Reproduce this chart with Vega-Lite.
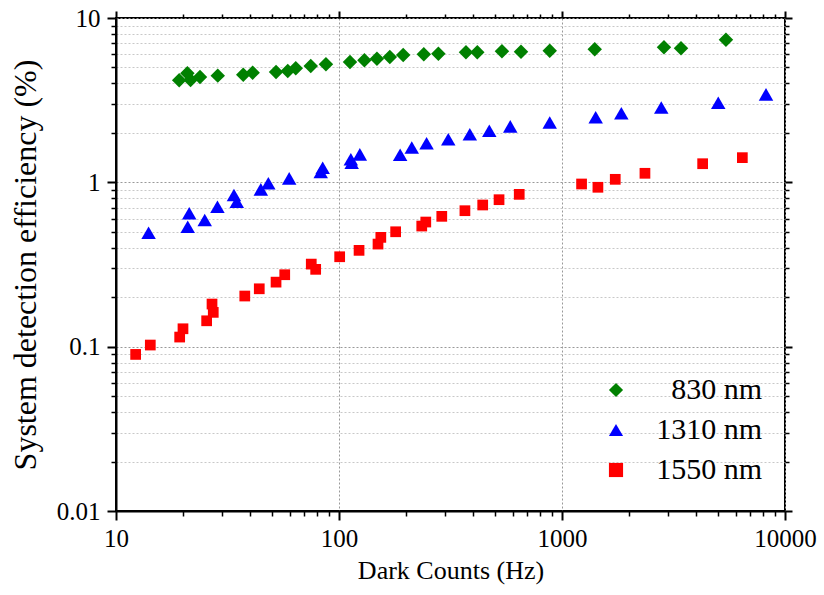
{
  "$schema": "https://vega.github.io/schema/vega-lite/v6.json",
  "width": 669,
  "height": 493,
  "autosize": {"type": "none"},
  "padding": {"left": 116, "top": 18, "right": 39, "bottom": 84},
  "background": "white",
  "config": {
    "view": {"stroke": "black", "strokeWidth": 2},
    "font": "Times New Roman",
    "axis": {"labelFont": "Times New Roman", "titleFont": "Times New Roman", "labelFontSize": 25, "titleFontSize": 26, "labelColor": "black", "titleColor": "black", "titleFontWeight": "normal", "domainColor": "black", "tickColor": "black", "labelFlush": false, "labelOverlap": false},
    "legend": {"labelFont": "Times New Roman"}
  },
  "resolve": {"axis": {"x": "independent", "y": "independent"}},
  "data": {"values": [
    {"s":"830 nm","x":19.2,"y":4.18},{"s":"830 nm","x":20.9,"y":4.61},{"s":"830 nm","x":21.6,"y":4.2},{"s":"830 nm","x":23.8,"y":4.38},
    {"s":"830 nm","x":28.6,"y":4.46},{"s":"830 nm","x":37.2,"y":4.52},{"s":"830 nm","x":41.0,"y":4.65},{"s":"830 nm","x":52.2,"y":4.69},
    {"s":"830 nm","x":58.9,"y":4.76},{"s":"830 nm","x":64.0,"y":4.94},{"s":"830 nm","x":74.7,"y":5.1},{"s":"830 nm","x":87.4,"y":5.23},
    {"s":"830 nm","x":112,"y":5.4},{"s":"830 nm","x":130,"y":5.53},{"s":"830 nm","x":148,"y":5.65},{"s":"830 nm","x":169,"y":5.79},
    {"s":"830 nm","x":194,"y":5.96},{"s":"830 nm","x":240,"y":6.01},{"s":"830 nm","x":279,"y":6.06},{"s":"830 nm","x":371,"y":6.18},
    {"s":"830 nm","x":417,"y":6.18},{"s":"830 nm","x":538,"y":6.27},{"s":"830 nm","x":655,"y":6.24},{"s":"830 nm","x":881,"y":6.32},
    {"s":"830 nm","x":1402,"y":6.45},{"s":"830 nm","x":2866,"y":6.63},{"s":"830 nm","x":3417,"y":6.54},{"s":"830 nm","x":5436,"y":7.38},
    {"s":"1310 nm","x":14.0,"y":0.493},{"s":"1310 nm","x":20.97,"y":0.537},{"s":"1310 nm","x":21.3,"y":0.648},{"s":"1310 nm","x":25.0,"y":0.59},
    {"s":"1310 nm","x":28.5,"y":0.71},{"s":"1310 nm","x":33.8,"y":0.837},{"s":"1310 nm","x":34.8,"y":0.762},{"s":"1310 nm","x":44.6,"y":0.906},
    {"s":"1310 nm","x":48.2,"y":0.986},{"s":"1310 nm","x":59.8,"y":1.057},{"s":"1310 nm","x":82.8,"y":1.155},{"s":"1310 nm","x":84.5,"y":1.227},
    {"s":"1310 nm","x":114,"y":1.316},{"s":"1310 nm","x":113,"y":1.38},{"s":"1310 nm","x":124,"y":1.48},{"s":"1310 nm","x":188,"y":1.47},
    {"s":"1310 nm","x":212,"y":1.63},{"s":"1310 nm","x":247,"y":1.73},{"s":"1310 nm","x":309,"y":1.83},{"s":"1310 nm","x":386,"y":1.96},
    {"s":"1310 nm","x":472,"y":2.06},{"s":"1310 nm","x":586,"y":2.19},{"s":"1310 nm","x":881,"y":2.31},{"s":"1310 nm","x":1416,"y":2.49},
    {"s":"1310 nm","x":1845,"y":2.63},{"s":"1310 nm","x":2787,"y":2.85},{"s":"1310 nm","x":5020,"y":3.05},{"s":"1310 nm","x":8219,"y":3.43},
    {"s":"1550 nm","x":12.25,"y":0.0897},{"s":"1550 nm","x":14.25,"y":0.1023},{"s":"1550 nm","x":19.3,"y":0.1144},{"s":"1550 nm","x":19.97,"y":0.1285},
    {"s":"1550 nm","x":25.5,"y":0.1437},{"s":"1550 nm","x":27.3,"y":0.1617},{"s":"1550 nm","x":26.95,"y":0.1817},{"s":"1550 nm","x":37.8,"y":0.2033},
    {"s":"1550 nm","x":43.9,"y":0.225},{"s":"1550 nm","x":52.2,"y":0.247},{"s":"1550 nm","x":57.1,"y":0.274},{"s":"1550 nm","x":75.1,"y":0.318},
    {"s":"1550 nm","x":78.6,"y":0.2955},{"s":"1550 nm","x":100.7,"y":0.3525},{"s":"1550 nm","x":123,"y":0.3855},{"s":"1550 nm","x":149.6,"y":0.421},
    {"s":"1550 nm","x":154,"y":0.4625},{"s":"1550 nm","x":179.5,"y":0.5003},{"s":"1550 nm","x":235,"y":0.542},{"s":"1550 nm","x":245,"y":0.5733},
    {"s":"1550 nm","x":289,"y":0.621},{"s":"1550 nm","x":367,"y":0.672},{"s":"1550 nm","x":441,"y":0.728},{"s":"1550 nm","x":522,"y":0.784},
    {"s":"1550 nm","x":643,"y":0.845},{"s":"1550 nm","x":1224,"y":0.977},{"s":"1550 nm","x":1449,"y":0.933},{"s":"1550 nm","x":1733,"y":1.043},
    {"s":"1550 nm","x":2355,"y":1.135},{"s":"1550 nm","x":4273,"y":1.298},{"s":"1550 nm","x":6437,"y":1.413}
  ]},
  "layer": [
    {
      "mark": {"type": "point", "opacity": 0},
      "encoding": {
        "x": {"field": "x", "type": "quantitative", "scale": {"type": "log", "domain": [10, 10000]},
          "axis": {"orient": "bottom", "values": [10,100,1000,10000], "format": "~g", "title": "Dark Counts (Hz)", "grid": true, "gridColor": "#999999", "gridDash": [2,2], "gridWidth": 1, "domain": true, "domainWidth": 2, "tickSize": 9, "tickWidth": 2, "labelFont": "Times New Roman", "labelFontSize": 25, "labelPadding": 6, "titleFontSize": 26, "titlePadding": 6}},
        "y": {"field": "y", "type": "quantitative", "scale": {"type": "log", "domain": [0.01, 10]},
          "axis": {"orient": "left", "values": [0.01,0.1,1,10], "format": "~g", "title": "System detection efficiency (%)", "grid": true, "gridColor": "#999999", "gridDash": [2,2], "gridWidth": 1, "domain": true, "domainWidth": 2, "tickSize": 9, "tickWidth": 2, "labelFont": "Times New Roman", "labelFontSize": 25, "labelPadding": 7, "titleFontSize": 32, "titlePadding": 14}}
      }
    },
    {
      "mark": {"type": "point", "opacity": 0},
      "encoding": {
        "x": {"field": "x", "type": "quantitative",
          "axis": {"orient": "bottom", "values": [20,30,40,50,60,70,80,90,200,300,400,500,600,700,800,900,2000,3000,4000,5000,6000,7000,8000,9000], "labels": false, "title": null, "grid": false, "domain": false, "tickSize": 5, "tickWidth": 1.5}},
        "y": {"field": "y", "type": "quantitative",
          "axis": {"orient": "left", "values": [0.02,0.03,0.04,0.05,0.06,0.07,0.08,0.09,0.2,0.3,0.4,0.5,0.6,0.7,0.8,0.9,2,3,4,5,6,7,8,9], "labels": false, "title": null, "grid": true, "gridColor": "#c8c8c8", "gridDash": [2,2], "gridWidth": 1, "domain": false, "tickSize": 5, "tickWidth": 1.5}}
      }
    },
    {
      "mark": {"type": "point", "opacity": 0},
      "encoding": {
        "x": {"field": "x", "type": "quantitative",
          "axis": {"orient": "top", "values": [20,30,40,50,60,70,80,90,200,300,400,500,600,700,800,900,2000,3000,4000,5000,6000,7000,8000,9000], "labels": false, "title": null, "grid": false, "domain": false, "tickSize": 4, "tickWidth": 1.5}},
        "y": {"field": "y", "type": "quantitative",
          "axis": {"orient": "right", "values": [0.02,0.03,0.04,0.05,0.06,0.07,0.08,0.09,0.2,0.3,0.4,0.5,0.6,0.7,0.8,0.9,2,3,4,5,6,7,8,9], "labels": false, "title": null, "grid": false, "domain": false, "tickSize": 4, "tickWidth": 1.5}}
      }
    },
    {
      "mark": {"type": "point", "opacity": 0},
      "encoding": {
        "x": {"field": "x", "type": "quantitative",
          "axis": {"orient": "top", "values": [10,100,1000,10000], "labels": false, "title": null, "grid": false, "domain": false, "tickSize": 7, "tickWidth": 2}},
        "y": {"field": "y", "type": "quantitative",
          "axis": {"orient": "right", "values": [0.01,0.1,1,10], "labels": false, "title": null, "grid": false, "domain": false, "tickSize": 7, "tickWidth": 2}}
      }
    },
    {
      "transform": [{"filter": "datum.s === '830 nm'"}],
      "mark": {"type": "point", "filled": true, "opacity": 1, "size": 210},
      "encoding": {
        "x": {"field": "x", "type": "quantitative", "axis": null},
        "y": {"field": "y", "type": "quantitative", "axis": null},
        "color": {"field": "s", "type": "nominal", "scale": {"domain": ["830 nm","1310 nm","1550 nm"], "range": ["#008000","#0000ff","#ff0000"]},
          "legend": {"title": null, "orient": "none", "legendX": 485, "legendY": 357, "labelFontSize": 30, "labelAlign": "right", "labelOffset": 131, "rowPadding": 10, "labelLimit": 300, "symbolSize": 200,
            "encode": {"labels": {"fill": {"condition": [{"test": "datum.value === '830 nm'", "value": "#008000"}, {"test": "datum.value === '1310 nm'", "value": "#0000ff"}], "value": "#ff0000"}},
                       "symbols": {"size": {"condition": {"test": "datum.value === '1550 nm'", "value": 110}, "value": 200}}}}},
        "shape": {"field": "s", "type": "nominal", "scale": {"domain": ["830 nm","1310 nm","1550 nm"], "range": ["diamond","triangle-up","square"]},
          "legend": {"title": null, "orient": "none", "legendX": 485, "legendY": 357, "labelFontSize": 30, "labelAlign": "right", "labelOffset": 131, "rowPadding": 10, "labelLimit": 300, "symbolSize": 200,
            "encode": {"labels": {"fill": {"condition": [{"test": "datum.value === '830 nm'", "value": "#008000"}, {"test": "datum.value === '1310 nm'", "value": "#0000ff"}], "value": "#ff0000"}},
                       "symbols": {"size": {"condition": {"test": "datum.value === '1550 nm'", "value": 110}, "value": 200}}}}}
      }
    },
    {
      "transform": [{"filter": "datum.s === '1310 nm'"}],
      "mark": {"type": "point", "filled": true, "opacity": 1, "size": 210},
      "encoding": {
        "x": {"field": "x", "type": "quantitative", "axis": null},
        "y": {"field": "y", "type": "quantitative", "axis": null},
        "color": {"field": "s", "type": "nominal"},
        "shape": {"field": "s", "type": "nominal"}
      }
    },
    {
      "transform": [{"filter": "datum.s === '1550 nm'"}],
      "mark": {"type": "point", "filled": true, "opacity": 1, "size": 115},
      "encoding": {
        "x": {"field": "x", "type": "quantitative", "axis": null},
        "y": {"field": "y", "type": "quantitative", "axis": null},
        "color": {"field": "s", "type": "nominal"},
        "shape": {"field": "s", "type": "nominal"}
      }
    }
  ]
}
